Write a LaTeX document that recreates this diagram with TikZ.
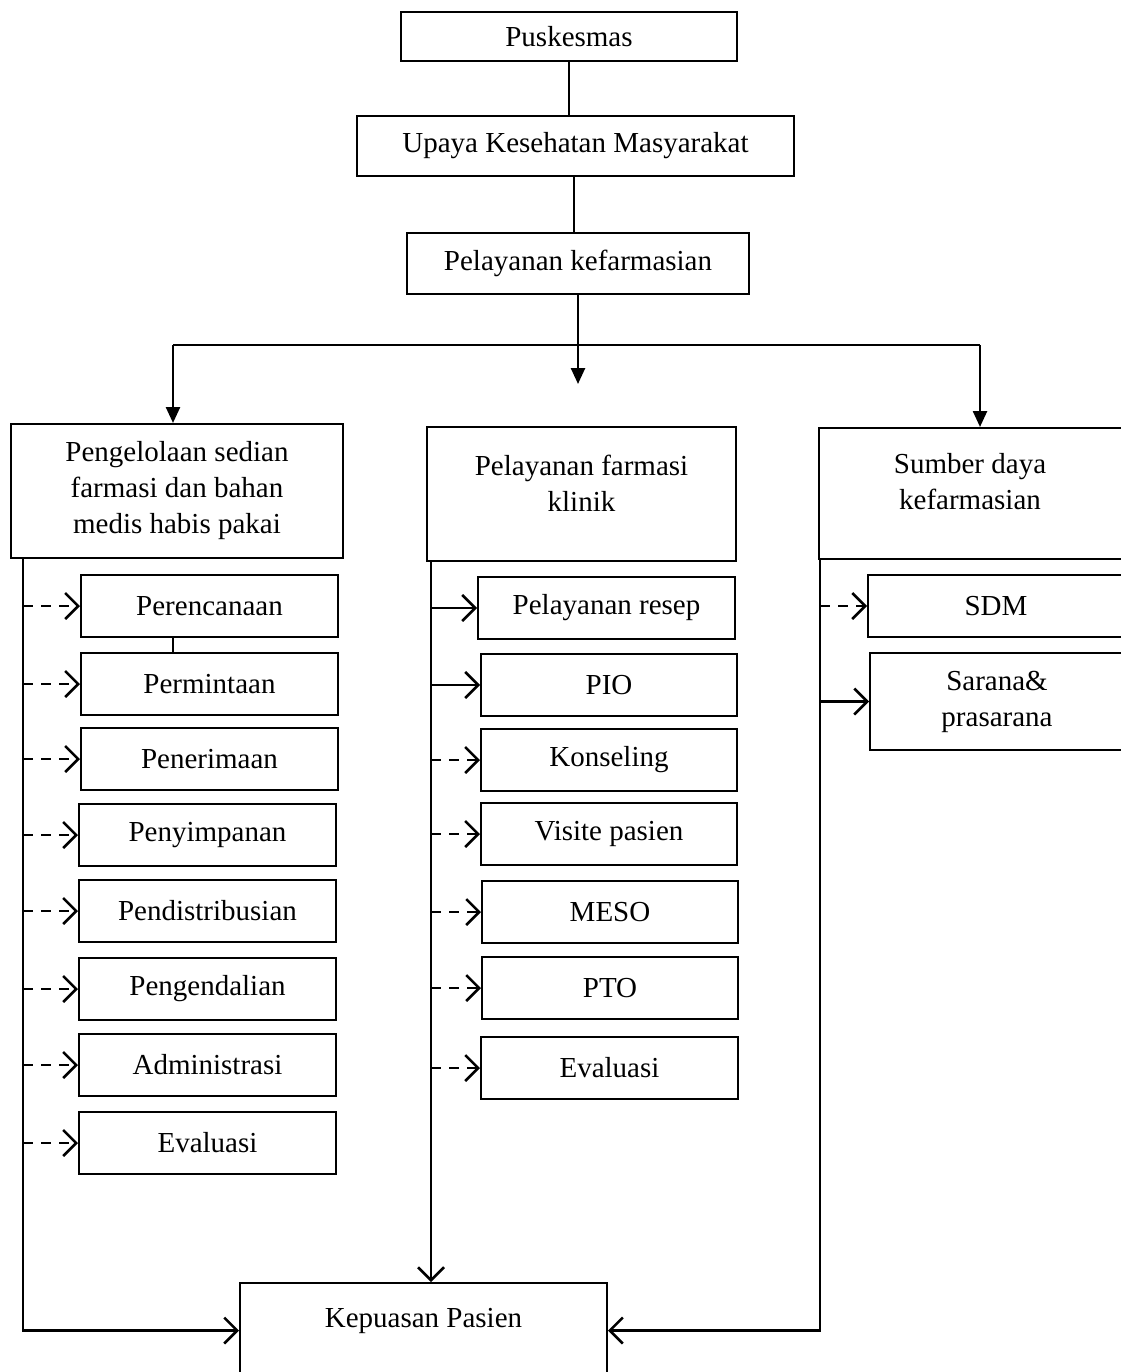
\documentclass[tikz,border=0pt]{standalone}
\usepackage{fontspec}
\setmainfont{Liberation Serif}
\usetikzlibrary{arrows.meta}
\newcommand\boxfont{\fontsize{29}{36}\selectfont}
\begin{document}
\begin{tikzpicture}[x=1pt,y=-1pt,
  box/.style={draw, line width=2pt, rectangle, inner sep=0pt, align=center, font=\boxfont},
  small/.style={box, minimum height=62pt, minimum width=257pt},
  inlabel/.style={font=\boxfont, align=center, inner sep=0pt},
  trunk/.style={line width=2.5pt},
  thin/.style={line width=2pt},
  solidarr/.style={line width=2.5pt, line join=miter, -{Straight Barb[length=13pt,width=26pt,line width=2.5pt]}},
  dasharr/.style={solidarr, dash pattern=on 10pt off 8pt},
  fillarr/.style={line width=2.5pt, -{Triangle[length=16pt,width=14pt]}}]
\useasboundingbox (0,0) rectangle (1120,1372);
% top chain
\node[box, minimum width=336pt, minimum height=49pt] (pusk) at (569,36.5) {Puskesmas};
\node[box, minimum width=437pt, minimum height=60pt] (upaya) at (575.5,146) {Upaya Kesehatan Masyarakat};
\node[box, minimum width=342pt, minimum height=61pt] (pelkef) at (578,263.5) {Pelayanan kefarmasian};
% three main boxes
\node[box, minimum width=332pt, minimum height=134pt] (pengel) at (177,491) {Pengelolaan sedian\\farmasi dan bahan\\medis habis pakai};
\node[box, minimum width=309pt, minimum height=134pt,
  label={[inlabel, yshift=10.5pt]center:{Pelayanan farmasi\\klinik}}] (klinik) at (581.5,494) {};
\node[box, minimum width=305pt, minimum height=131pt,
  label={[inlabel, xshift=-1.5pt, yshift=11.5pt]center:{Sumber daya\\kefarmasian}}] (sumber) at (971.5,493.5) {};
% left column
\node[small] (p1) at (209.5,606) {Perencanaan};
\node[small] (p2) at (209.5,684) {Permintaan};
\node[small] (p3) at (209.5,759) {Penerimaan};
\node[small] (p4) at (207.5,835) {Penyimpanan};
\node[small] (p5) at (207.5,911) {Pendistribusian};
\node[small] (p6) at (207.5,989) {Pengendalian};
\node[small] (p7) at (207.5,1065) {Administrasi};
\node[small] (p8) at (207.5,1143) {Evaluasi};
% middle column
\node[small] (m1) at (606.5,608) {Pelayanan resep};
\node[small, minimum width=256pt] (m2) at (609,685) {PIO};
\node[small, minimum width=256pt] (m3) at (609,760) {Konseling};
\node[small, minimum width=256pt] (m4) at (609,834) {Visite pasien};
\node[small, minimum width=256pt] (m5) at (610,912) {MESO};
\node[small, minimum width=256pt] (m6) at (610,988) {PTO};
\node[small, minimum width=257pt] (m7) at (609.5,1068) {Evaluasi};
% right column
\node[small, minimum width=256pt] (r1) at (996,606) {SDM};
\node[box, minimum width=254pt, minimum height=97pt] (r2) at (997,701.5) {Sarana\&\\prasarana};
% result
\node[box, minimum width=367pt, minimum height=95pt,
  label={[inlabel, yshift=9.5pt]center:{Kepuasan Pasien}}] (kep) at (423.5,1330.5) {};
% coordinates
\coordinate (lt) at (23,0);
\coordinate (mt) at (431,0);
\coordinate (rt) at (820,0);
\coordinate (hl) at (173,345);
\coordinate (hr) at (980,345);
\coordinate (mtip) at (578,384);
% top connectors
\draw[thin] (pusk.south) -- (pusk.south |- upaya.north);
\draw[thin] (upaya.south -| 574,0) -- (pelkef.north -| 574,0);
\draw[fillarr] (pelkef.south) -- (mtip);
\draw[trunk] (hl) -- (hr);
\draw[fillarr] (hl) -- (hl |- pengel.north);
\draw[fillarr] (hr) -- (hr |- sumber.north);
% trunks
\draw[solidarr] (lt |- pengel.south) |- (kep.west);
\draw[solidarr] (mt |- klinik.south) -- (mt |- kep.north);
\draw[solidarr] (rt |- sumber.south) |- (kep.east);
% left branches
\draw[thin] (p1.south -| 173,0) -- (p2.north -| 173,0);
\foreach \n in {p1,p2,p3,p4,p5,p6,p7,p8}
  \draw[dasharr] (lt |- \n.west) -- (\n.west);
% middle branches
\draw[solidarr] (mt |- m1.west) -- (m1.west);
\draw[solidarr] (mt |- m2.west) -- (m2.west);
\foreach \n in {m3,m4,m5,m6,m7}
  \draw[dasharr] (mt |- \n.west) -- (\n.west);
% right branches
\draw[dasharr] (rt |- r1.west) -- (r1.west);
\draw[solidarr] (rt |- r2.west) -- (r2.west);
\end{tikzpicture}
\end{document}
